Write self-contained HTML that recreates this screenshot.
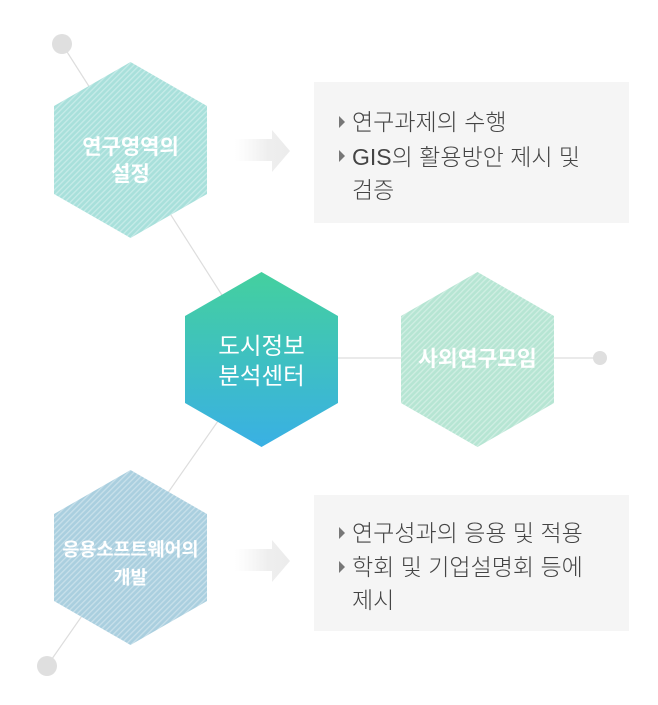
<!DOCTYPE html>
<html><head><meta charset="utf-8"><style>
html,body{margin:0;padding:0;background:#fff;}
svg{display:block;}
text{font-family:"Liberation Sans","Noto Sans CJK KR",sans-serif;}
</style></head><body>
<svg width="658" height="705" viewBox="0 0 658 705" xmlns="http://www.w3.org/2000/svg">
<defs>
<pattern id="st" width="4" height="4" patternUnits="userSpaceOnUse" patternTransform="rotate(45)">
<rect width="4" height="4" fill="none"/><rect width="1.3" height="4" fill="#ffffff" opacity="0.35"/>
</pattern>
<linearGradient id="cg" x1="0" y1="0" x2="0" y2="1">
<stop offset="0" stop-color="#44d09e"/><stop offset="1" stop-color="#39b0e4"/>
</linearGradient>
<linearGradient id="ag" x1="0" y1="0" x2="1" y2="0">
<stop offset="0" stop-color="#f2f2f2" stop-opacity="0"/><stop offset="0.6" stop-color="#eeeeee"/><stop offset="1" stop-color="#ececec"/>
</linearGradient>
</defs>
<g stroke="#dddddd" stroke-width="1.2" fill="none">
<line x1="62" y1="44" x2="262" y2="358"/>
<line x1="262" y1="358" x2="47" y2="666"/>
<line x1="338" y1="358" x2="600" y2="358"/>
</g>
<circle cx="62" cy="44" r="10" fill="#dfdfdf"/>
<circle cx="600" cy="358" r="7" fill="#dfdfdf"/>
<circle cx="47" cy="666" r="10" fill="#dfdfdf"/>

<polygon points="130.5,62 207,106 207,194 130.5,238 54,194 54,106" fill="#a8e0db"/>
<polygon points="130.5,62 207,106 207,194 130.5,238 54,194 54,106" fill="url(#st)"/>
<text x="130.5" y="154" fill="#fff" font-size="21" font-weight="bold" text-anchor="middle">연구영역의</text>
<text x="130.5" y="181" fill="#fff" font-size="21" font-weight="bold" text-anchor="middle">설정</text>

<polygon points="261.5,272 338,316 338,403 261.5,447 185,403 185,316" fill="url(#cg)"/>
<text x="261.5" y="354" fill="#fff" font-size="23.5" text-anchor="middle">도시정보</text>
<text x="261.5" y="384" fill="#fff" font-size="23.5" text-anchor="middle">분석센터</text>

<polygon points="477.5,272 554,316 554,403 477.5,447 401,403 401,316" fill="#b6e5d3"/>
<polygon points="477.5,272 554,316 554,403 477.5,447 401,403 401,316" fill="url(#st)"/>
<text x="477.5" y="366" fill="#fff" font-size="21.5" font-weight="bold" text-anchor="middle">사외연구모임</text>

<polygon points="130.5,470 207,514 207,601 130.5,645 54,601 54,514" fill="#aacfdf"/>
<polygon points="130.5,470 207,514 207,601 130.5,645 54,601 54,514" fill="url(#st)"/>
<text x="130.5" y="556" fill="#fff" font-size="18.5" font-weight="bold" text-anchor="middle">응용소프트웨어의</text>
<text x="130.5" y="584" fill="#fff" font-size="18.5" font-weight="bold" text-anchor="middle">개발</text>

<polygon points="235,139 272,139 272,130 290,151 272,172 272,161 235,161" fill="url(#ag)"/>
<polygon points="235,549 272,549 272,540 290,561 272,582 272,571 235,571" fill="url(#ag)"/>

<rect x="314" y="82" width="315" height="141" fill="#f5f5f5"/>
<rect x="314" y="495" width="315" height="136" fill="#f5f5f5"/>
<g fill="#777">
<polygon points="339,116 339,128 345,122"/>
<polygon points="339,150 339,162 345,156"/>
<polygon points="339,527 339,539 345,533"/>
<polygon points="339,561 339,573 345,567"/>
</g>
<g fill="#444" font-size="23" font-weight="300">
<text x="352" y="130">연구과제의 수행</text>
<text x="352" y="165">GIS의 활용방안 제시 및</text>
<text x="352" y="198">검증</text>
<text x="352" y="541">연구성과의 응용 및 적용</text>
<text x="352" y="575">학회 및 기업설명회 등에</text>
<text x="352" y="608">제시</text>
</g>
</svg>
</body></html>
